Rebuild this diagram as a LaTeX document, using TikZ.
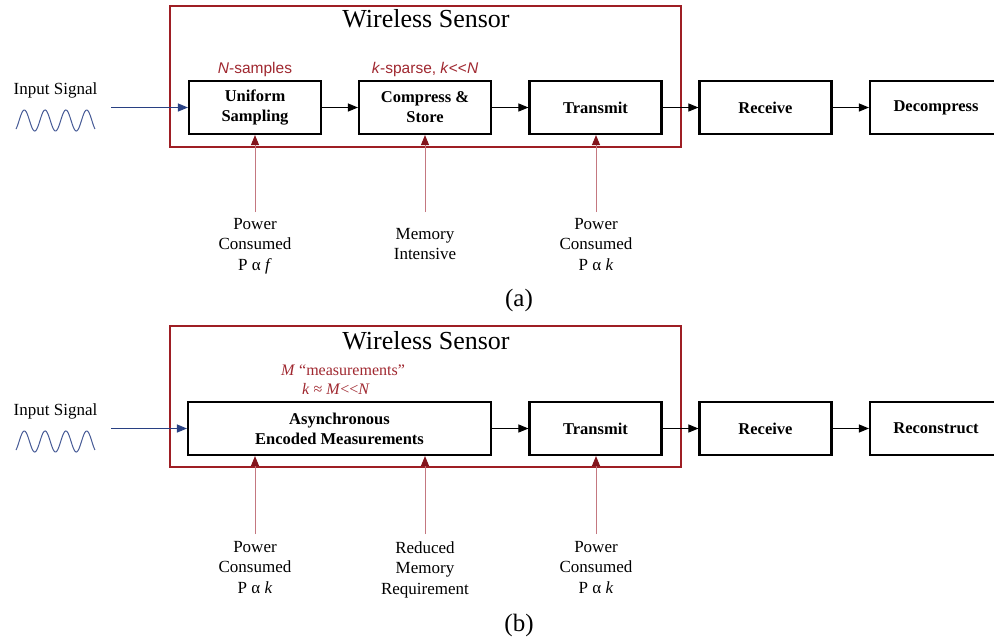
\documentclass[tikz,border=0pt]{standalone}
\usepackage{fontspec}
\setmainfont{Liberation Serif}
\newfontfamily\arialf{Liberation Sans}
\usetikzlibrary{arrows.meta}
\definecolor{sensred}{RGB}{158,30,36}
\definecolor{lblred}{RGB}{160,40,48}
\definecolor{stemred}{RGB}{196,120,128}
\definecolor{tipred}{RGB}{130,20,28}
\definecolor{sigblue}{RGB}{40,64,130}
\definecolor{wavblue}{RGB}{70,90,150}
\tikzset{
 blk/.style={draw=black, line width=2.1pt, minimum width=132pt, minimum height=53pt, inner sep=0pt, align=center, font=\fontsize{16.5}{20}\selectfont\bfseries},
 flow/.style={-{Triangle[length=10pt,width=8pt]}, line width=1pt, black},
 inarrow/.style={-{Triangle[length=10pt,width=8pt]}, line width=1pt, sigblue},
 stem/.style={-{Triangle[length=10pt,width=8pt,color=tipred]}, line width=1pt, stemred},
 sensbox/.style={draw=sensred, line width=2pt},
 ttl/.style={font=\fontsize{26}{30}\selectfont, inner sep=0pt},
 note/.style={font=\fontsize{17}{20.5}\selectfont, align=center, inner sep=0pt, anchor=north},
 rednote/.style={text=lblred, inner sep=0pt},
 capt/.style={font=\fontsize{25}{30}\selectfont, inner sep=0pt},
 wave/.style={wavblue, line width=1pt},
 insig/.style={font=\fontsize{17}{20}\selectfont, inner sep=0pt},
}
\begin{document}
\begin{tikzpicture}[x=1pt,y=-1pt]
\useasboundingbox (0,0) rectangle (994,641);
\clip (0,0) rectangle (994,641);
\fill[white] (0,0) rectangle (994,641);

% ===== (a) =====
\draw[sensbox] (170,6) rectangle (681,147);
\node[ttl] (ta) at (426,18.5) {Wireless Sensor};

\node[insig] (ina) at (55.5,90) {Input Signal};
\draw[wave] plot[domain=-0.3:7.3, samples=120, smooth] ({16 + (\x+0.3)/7.6*79}, {120.5 - 10.5*sin(\x*180)});
\coordinate (sa) at (111,107.5);

\node[blk] (us) at (255,107.5) {Uniform\\Sampling};
\node[blk] (cs) at (425,107.5) {Compress \&\\Store};
\node[blk] (txa) at (595.5,107.5) {Transmit};
\node[blk] (rxa) at (765.5,107.5) {Receive};
\node[blk] (dc) at (936,107.5) {Decompress};

\node[rednote, font=\arialf\fontsize{15.5}{18}\selectfont] (na) at (255,69) {\textit{N}-samples};
\node[rednote, font=\arialf\fontsize{15.5}{18}\selectfont] (ka) at (425,69) {\textit{k}-sparse, \textit{k}<\kern0pt<\textit{N}};

\draw[inarrow] (sa) -- (us.west);
\draw[flow] (us) -- (cs);
\draw[flow] (cs) -- (txa);
\draw[flow] (txa) -- (rxa);
\draw[flow] (rxa) -- (dc);

\node[note] (pa1) at (255,218) {Power\\Consumed\\P α \textit{f}};
\node[note] (ma) at (425,228) {Memory\\Intensive};
\node[note] (pa2) at (596,218) {Power\\Consumed\\P α \textit{k}};
\coordinate (topa) at (0,212);
\draw[stem] (pa1.north |- topa) -- (us.south);
\draw[stem] (ma.north |- topa) -- (cs.south);
\draw[stem] (pa2.north |- topa) -- (pa2.north |- txa.south);

\node[capt] (cpa) at (519,300) {(a)};

% ===== (b) =====
\draw[sensbox] (170,326) rectangle (681,467);
\node[ttl] (tb) at (426,341) {Wireless Sensor};

\node[insig] (inb) at (55.5,411) {Input Signal};
\draw[wave] plot[domain=-0.3:7.3, samples=120, smooth] ({16 + (\x+0.3)/7.6*79}, {441.5 - 10.5*sin(\x*180)});
\coordinate (sb) at (111,428.5);

\node[blk, minimum width=303pt] (ae) at (339.5,428.5) {Asynchronous\\Encoded Measurements};
\node[blk] (txb) at (595.5,428.5) {Transmit};
\node[blk] (rxb) at (765.5,428.5) {Receive};
\node[blk] (rc) at (936,428.5) {Reconstruct};

\node[rednote, font=\fontsize{16}{19}\selectfont] (mb) at (343,370) {\textit{M} “measurements”};
\node[rednote, font=\fontsize{16}{19}\selectfont] (kb) at (336,389) {\textit{k} ≈ \textit{M}<\kern0pt<\textit{N}};

\draw[inarrow] (sb) -- (ae.west);
\draw[flow] (ae) -- (txb);
\draw[flow] (txb) -- (rxb);
\draw[flow] (rxb) -- (rc);

\node[note] (pb1) at (255,541) {Power\\Consumed\\P α \textit{k}};
\node[note] (mb2) at (425,541) {Reduced\\Memory\\Requirement};
\node[note] (pb2) at (596,541) {Power\\Consumed\\P α \textit{k}};
\coordinate (topb) at (0,534);
\draw[stem] (pb1.north |- topb) -- (pb1.north |- ae.south);
\draw[stem] (mb2.north |- topb) -- (mb2.north |- ae.south);
\draw[stem] (pb2.north |- topb) -- (pb2.north |- txb.south);

\node[capt] (cpb) at (519,625) {(b)};
\end{tikzpicture}
\end{document}
